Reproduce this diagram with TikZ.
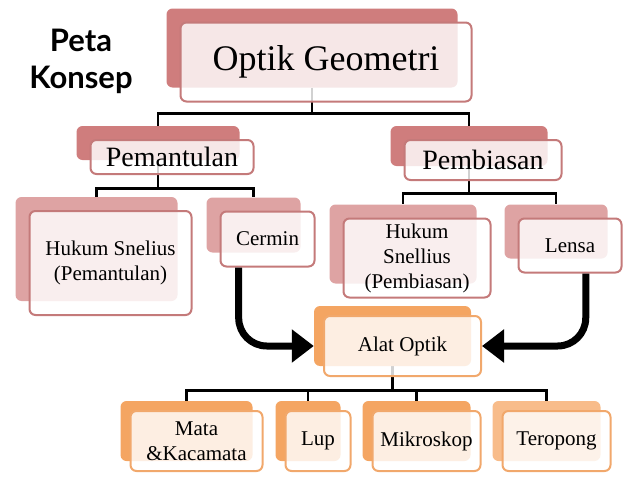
\documentclass[tikz,border=0pt]{standalone}
\usepackage{fontspec}
\setmainfont{Liberation Serif}
\newfontfamily\judul{Lato}
\usetikzlibrary{positioning,calc,backgrounds,arrows.meta}
\definecolor{merahtua}{RGB}{207,125,125}
\definecolor{merahmuda}{RGB}{222,163,163}
\definecolor{garismerah}{RGB}{196,122,122}
\definecolor{jingga}{RGB}{244,165,98}
\definecolor{jinggamuda}{RGB}{248,188,138}
\definecolor{garisjingga}{RGB}{241,168,108}
\newcommand{\knode}[7][]{%
  \node [#3 back, minimum width=#5pt, minimum height=#6pt] (#2-b) at (#4) {};
  \node [#3 front, minimum width=#5pt, minimum height=#6pt, #1] (#2) at (#4) {#7}}
\tikzset{
  kotak/.style={rectangle, rounded corners=6pt, inner sep=0pt, align=center,
    font=\fontsize{21}{25}\selectfont},
  depan/.style={kotak, line width=2pt, fill=white, fill opacity=0.82, text opacity=1},
  tua back/.style={kotak, fill=merahtua},
  tua front/.style={depan, draw=garismerah, xshift=14pt, yshift=-14pt,
    font=\fontsize{28}{32}\selectfont},
  muda back/.style={kotak, fill=merahmuda},
  muda front/.style={depan, draw=garismerah, xshift=14pt, yshift=-14pt},
  jingga back/.style={kotak, fill=jingga},
  jingga front/.style={depan, draw=garisjingga, xshift=10pt, yshift=-10pt},
  jinggamuda back/.style={kotak, fill=jinggamuda},
  jinggamuda front/.style={jingga front},
  garis/.style={line width=2.6pt, black},
  panah/.style={line width=7pt, rounded corners=28pt, -{Triangle[length=22pt,width=32pt]}}
}
\begin{document}
\begin{tikzpicture}[x=1pt, y=-1pt]

\useasboundingbox (0,0) rectangle (638,479);

\node [font=\judul\bfseries\fontsize{31}{37}\selectfont, align=center] (judul) at (81,61) {Peta\\Konsep};

\knode[font=\fontsize{36}{40}\selectfont]{optik}{tua}{312,48}{291}{79}{Optik Geometri};
\knode{pemantulan}{tua}{158,143}{163}{34}{Pemantulan};
\knode{pembiasan}{tua}{469,146}{157}{40}{Pembiasan};

\knode{snelius}{muda}{96.5,249}{162}{104}{Hukum Snelius\\(Pemantulan)};
\knode{cermin}{muda}{253.5,225}{94}{55}{Cermin};
\knode{snellius}{muda}{403,244}{147}{79}{Hukum\\Snellius\\(Pembiasan)};
\knode{lensa}{muda}{556,231.5}{103}{54}{Lensa};

\knode{alat}{jingga}{392.5,336}{157}{60}{Alat Optik};

\knode{mata}{jingga}{186.5,431}{132}{60}{Mata\\\&Kacamata};
\knode{lup}{jingga}{308,431}{65}{60}{Lup};
\knode{mikroskop}{jingga}{416.5,431}{108}{60}{Mikroskop};
\knode{teropong}{jinggamuda}{546.5,431}{108}{60}{Teropong};

\begin{scope}[on background layer]
\draw[garis] (optik-b.south) -- ++(0,26) -| (pemantulan-b.north);
\draw[garis] (optik-b.south) -- ++(0,26) -| (pembiasan-b.north);
\draw[garis] (pemantulan-b.south) -- ++(0,28) -| (snelius-b.north);
\draw[garis] (pemantulan-b.south) -- ++(0,28) -| (cermin-b.north);
\draw[garis] (pembiasan-b.south) -- ++(0,27) -| (snellius-b.north);
\draw[garis] (pembiasan-b.south) -- ++(0,27) -| (lensa-b.north);
\foreach \n in {mata,lup,mikroskop,teropong}
  \draw[garis] (alat-b.south) -- ++(0,24) -| (\n-b.north);
\end{scope}

\draw[panah] ($(cermin.south west)!0.2!(cermin.south east)$) |- (alat-b.west |- alat.west);
\draw[panah] ($(lensa.south west)!0.65!(lensa.south east)$) |- (alat.east);

\end{tikzpicture}
\end{document}
